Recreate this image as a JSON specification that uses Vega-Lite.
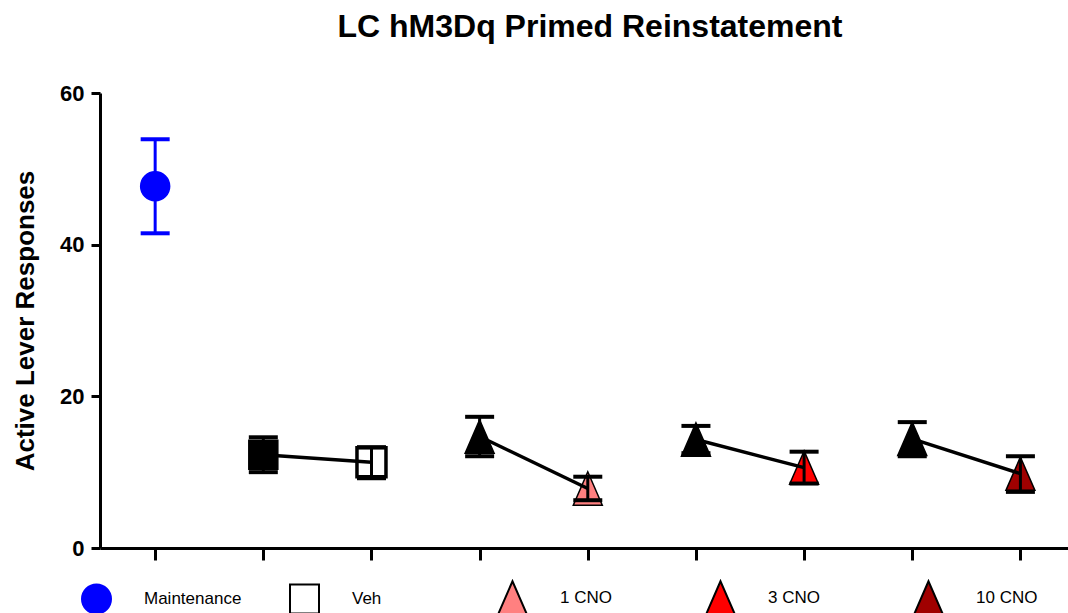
{
  "$schema": "https://vega.github.io/schema/vega-lite/v6.json",
  "width": 968,
  "height": 455,
  "autosize": {"type": "none"},
  "padding": {"left": 100, "top": 93, "right": 0, "bottom": 65},
  "background": "white",
  "title": {
    "text": "LC hM3Dq Primed Reinstatement",
    "font": "Liberation Sans",
    "fontSize": 32,
    "fontWeight": "bold",
    "color": "black",
    "anchor": "middle",
    "frame": "group",
    "baseline": "alphabetic",
    "offset": 13,
    "dx": 6
  },
  "data": {
    "values": [
      {"pos": 1, "group": "Maintenance", "pair": "Maintenance", "mean": 47.7, "lo": 41.5, "hi": 53.9},
      {"pos": 2, "group": "Veh (pre)", "pair": "Veh", "mean": 12.3, "lo": 10.0, "hi": 14.6},
      {"pos": 3, "group": "Veh", "pair": "Veh", "mean": 11.3, "lo": 9.2, "hi": 13.3},
      {"pos": 4, "group": "1 CNO (pre)", "pair": "1 CNO", "mean": 14.7, "lo": 12.1, "hi": 17.3},
      {"pos": 5, "group": "1 CNO", "pair": "1 CNO", "mean": 7.85, "lo": 6.3, "hi": 9.4},
      {"pos": 6, "group": "3 CNO (pre)", "pair": "3 CNO", "mean": 14.3, "lo": 12.5, "hi": 16.1},
      {"pos": 7, "group": "3 CNO", "pair": "3 CNO", "mean": 10.6, "lo": 8.5, "hi": 12.7},
      {"pos": 8, "group": "10 CNO (pre)", "pair": "10 CNO", "mean": 14.4, "lo": 12.1, "hi": 16.6},
      {"pos": 9, "group": "10 CNO", "pair": "10 CNO", "mean": 9.8, "lo": 7.4, "hi": 12.1}
    ]
  },
  "config": {
    "view": {"stroke": null},
    "legend": {
      "orient": "none",
      "legendX": -19,
      "legendY": 489,
      "direction": "horizontal",
      "columns": 5,
      "gridAlign": "all",
      "columnPadding": 44,
      "labelOffset": 32,
      "labelFont": "Liberation Sans",
      "labelFontSize": 17,
      "labelColor": "black",
      "symbolSize": 841,
      "symbolStrokeWidth": 2,
      "padding": 0,
      "titlePadding": 0
    }
  },
  "encoding": {
    "x": {
      "field": "pos",
      "type": "quantitative",
      "scale": {"domain": [0.49, 9.44], "nice": false, "zero": false},
      "axis": {
        "title": null,
        "labels": false,
        "values": [1, 2, 3, 4, 5, 6, 7, 8, 9],
        "tickSize": 12,
        "tickWidth": 3,
        "tickColor": "black",
        "domainColor": "black",
        "domainWidth": 3,
        "grid": false
      }
    }
  },
  "layer": [
    {
      "mark": {"type": "point", "opacity": 1, "size": 841},
      "encoding": {
        "y": {
          "field": "mean",
          "type": "quantitative",
          "scale": {"domain": [0, 60], "nice": false},
          "axis": {
            "title": "Active Lever Responses",
            "values": [0, 20, 40, 60],
            "grid": false,
            "tickSize": 9,
            "tickWidth": 3,
            "tickColor": "black",
            "domainColor": "black",
            "domainWidth": 3,
            "labelFont": "Liberation Sans",
            "labelFontSize": 22,
            "labelFontWeight": "bold",
            "labelColor": "black",
            "labelPadding": 7,
            "labelFlush": false,
            "titleFont": "Liberation Sans",
            "titleFontSize": 26,
            "titleFontWeight": "bold",
            "titleColor": "black",
            "titleAngle": 270,
            "titleX": -75,
            "titleY": 227.5,
            "titleAlign": "center",
            "titleBaseline": "middle"
          }
        },
        "fill": {
          "field": "group",
          "type": "nominal",
          "scale": {
            "domain": ["Maintenance", "Veh (pre)", "Veh", "1 CNO (pre)", "1 CNO", "3 CNO (pre)", "3 CNO", "10 CNO (pre)", "10 CNO"],
            "range": ["#0000FF", "#000000", "#FFFFFF", "#000000", "#FF8080", "#000000", "#FF0000", "#000000", "#A00000"]
          },
          "legend": {"title": null, "values": ["Maintenance", "Veh", "1 CNO", "3 CNO", "10 CNO"]}
        },
        "stroke": {
          "field": "group",
          "type": "nominal",
          "scale": {
            "domain": ["Maintenance", "Veh (pre)", "Veh", "1 CNO (pre)", "1 CNO", "3 CNO (pre)", "3 CNO", "10 CNO (pre)", "10 CNO"],
            "range": ["#0000FF", "#000000", "#000000", "#000000", "#000000", "#000000", "#000000", "#000000", "#000000"]
          },
          "legend": {"title": null, "values": ["Maintenance", "Veh", "1 CNO", "3 CNO", "10 CNO"]}
        },
        "shape": {
          "field": "group",
          "type": "nominal",
          "scale": {
            "domain": ["Maintenance", "Veh (pre)", "Veh", "1 CNO (pre)", "1 CNO", "3 CNO (pre)", "3 CNO", "10 CNO (pre)", "10 CNO"],
            "range": ["circle", "square", "square", "M0,-1.15L-1,1.15L1,1.15Z", "M0,-1.15L-1,1.15L1,1.15Z", "M0,-1.15L-1,1.15L1,1.15Z", "M0,-1.15L-1,1.15L1,1.15Z", "M0,-1.15L-1,1.15L1,1.15Z", "M0,-1.15L-1,1.15L1,1.15Z"]
          },
          "legend": {"title": null, "values": ["Maintenance", "Veh", "1 CNO", "3 CNO", "10 CNO"]}
        },
        "strokeWidth": {
          "condition": {"test": "datum.group === 'Veh'", "value": 3.5},
          "value": 1.5
        }
      }
    },
    {
      "mark": {"type": "line", "color": "black", "strokeWidth": 3.5},
      "encoding": {
        "y": {"field": "mean", "type": "quantitative"},
        "detail": {"field": "pair", "type": "nominal"}
      }
    },
    {
      "mark": {"type": "rule", "strokeWidth": 3},
      "encoding": {
        "y": {"field": "lo", "type": "quantitative"},
        "y2": {"field": "hi"},
        "stroke": {
          "condition": {"test": "datum.group === 'Maintenance'", "value": "#0000FF"},
          "value": "#000000"
        }
      }
    },
    {
      "mark": {"type": "rule", "strokeWidth": 4, "xOffset": -14.5, "x2Offset": 14.5},
      "encoding": {
        "x2": {"field": "pos"},
        "y": {"field": "hi", "type": "quantitative"},
        "stroke": {
          "condition": {"test": "datum.group === 'Maintenance'", "value": "#0000FF"},
          "value": "#000000"
        }
      }
    },
    {
      "mark": {"type": "rule", "strokeWidth": 4, "xOffset": -14.5, "x2Offset": 14.5},
      "encoding": {
        "x2": {"field": "pos"},
        "y": {"field": "lo", "type": "quantitative"},
        "stroke": {
          "condition": {"test": "datum.group === 'Maintenance'", "value": "#0000FF"},
          "value": "#000000"
        }
      }
    }
  ]
}
